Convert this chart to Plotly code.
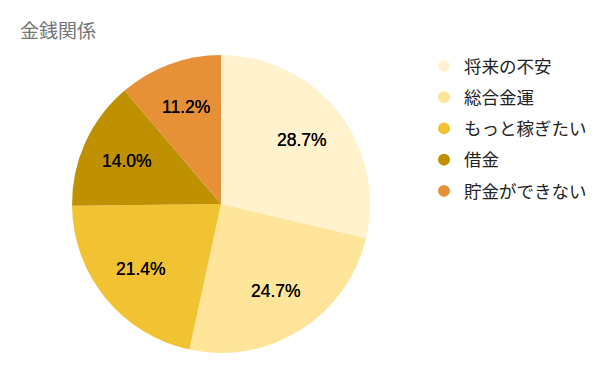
import math
import plotly.graph_objects as go

categories = ["将来の不安", "総合金運", "もっと稼ぎたい", "借金", "貯金ができない"]
values = [28.7, 24.7, 21.4, 14.0, 11.2]
colors = ["#FFF2CC", "#FFE599", "#F1C232", "#BF9000", "#E69138"]

W, H = 600, 371
cx, cy, r = 221, 204, 149
label_radius = 0.69  # fraction of pie radius where percentage labels sit

fig = go.Figure()
fig.add_trace(go.Pie(
    labels=categories, values=values, sort=False, direction="clockwise", rotation=0,
    marker=dict(colors=colors, line=dict(width=0)),
    textinfo="none",
    showlegend=False, hoverinfo="label+percent",
    domain=dict(x=[(cx - r) / W, (cx + r) / W], y=[1 - (cy + r) / H, 1 - (cy - r) / H]),
))

# percentage labels placed along each slice's mid-angle
total = sum(values)
cum = 0.0
annotations = []
for v in values:
    mid = (cum + v / 2) / total * 2 * math.pi
    cum += v
    px = cx + label_radius * r * math.sin(mid)
    py = cy - label_radius * r * math.cos(mid)
    annotations.append(dict(
        x=px / W, y=1 - py / H, xref="paper", yref="paper", showarrow=False,
        text=f"{v / total * 100:.1f}%", xanchor="center", yanchor="middle",
        font=dict(family="Liberation Sans, Arial", size=17.5, color="#000000",
                  shadow="0px 0px 0.6px #000000"),
    ))

for i, (c, col) in enumerate(zip(categories, colors)):
    fig.add_trace(go.Scatter(
        x=[None], y=[None], mode="markers", name=c, legendgroup=str(i),
        marker=dict(symbol="circle", size=12, color=col), showlegend=True,
    ))

fig.update_layout(
    width=W, height=H, margin=dict(l=0, r=0, t=0, b=0),
    paper_bgcolor="white", plot_bgcolor="white",
    xaxis=dict(visible=False), yaxis=dict(visible=False),
    annotations=annotations,
    title=dict(text="金銭関係", x=20 / W, xanchor="left", y=1 - 31.5 / H, yanchor="middle",
               font=dict(family="Noto Sans CJK JP", size=19, color="#757575")),
    legend=dict(x=424 / W, xanchor="left", y=1 - 48 / H, yanchor="top",
                font=dict(family="Noto Sans CJK JP", size=17.5, color="#222222"),
                tracegroupgap=5.5, itemsizing="constant", bgcolor="rgba(0,0,0,0)"),
)
fig.write_html("out.html", config={"displayModeBar": False},
               post_script="document.body.style.margin='0';")
